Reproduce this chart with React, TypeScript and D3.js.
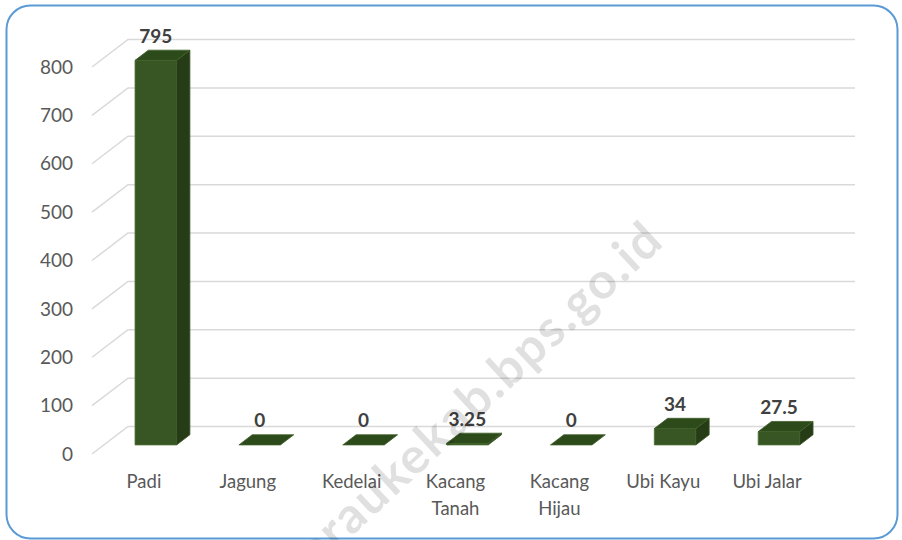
import * as d3 from 'd3';

const categories = ['Padi', 'Jagung', 'Kedelai', 'Kacang Tanah', 'Kacang Hijau', 'Ubi Kayu', 'Ubi Jalar'];
const values = [795, 0, 0, 3.25, 0, 34, 27.5];
const labels = ['795', '0', '0', '3.25', '0', '34', '27.5'];
const yTicks = [0, 100, 200, 300, 400, 500, 600, 700, 800];

// chart box and oblique depth vector
const FRONT_LEFT = 92;
const FRONT_RIGHT = 819;
const DEPTH = { dx: 36, dy: -27.5 };
const BAR_D0 = 0.33;
const BAR_D1 = 0.7;

const FONT = 'Lato, "Open Sans", sans-serif';

export default function App() {
  const width = 902;
  const height = 540;

  const x = d3.scaleBand().domain(categories).range([FRONT_LEFT, FRONT_RIGHT]);
  const y = d3.scaleLinear().domain([0, 800]).range([454, 67]);

  const proj = (px: number, v: number, d: number): [number, number] => [px + d * DEPTH.dx, y(v) + d * DEPTH.dy];
  const poly = (pts: [number, number][]) => pts.map((p) => p.join(',')).join(' ');

  const barW = x.bandwidth() * 0.4;

  return (
    <svg width={width} height={height} style={{ position: 'absolute', left: 0, top: 0 }}>
      <rect x={0} y={0} width={width} height={height} fill="#fff" />
      <rect x={6.5} y={5.5} width={891} height={533} rx={24} fill="#fff" stroke="#5b9bd5" strokeWidth={2} />

      {/* gridlines: side wall diagonals + back wall */}
      {yTicks.map((t) => {
        const [fx, fy] = proj(FRONT_LEFT, t, 0);
        const [bx, by] = proj(FRONT_LEFT, t, 1);
        const [ex] = proj(FRONT_RIGHT, t, 1);
        return (
          <g key={t}>
            <polyline points={poly([[fx, fy], [bx, by], [ex, by]])} fill="none" stroke="#d9d9d9" strokeWidth={1.5} />
            <text x={73} y={fy} dy="0.35em" textAnchor="end" fontFamily={FONT} fontSize={19} fill="#595959">
              {t}
            </text>
          </g>
        );
      })}

      {/* bars */}
      {categories.map((c, i) => {
        const v = values[i];
        const cx = (x(c) ?? 0) + x.bandwidth() / 2;
        const x0 = cx - barW / 2;
        const x1 = cx + barW / 2;
        const front = [proj(x0, 0, BAR_D0), proj(x1, 0, BAR_D0), proj(x1, v, BAR_D0), proj(x0, v, BAR_D0)];
        const side = [proj(x1, 0, BAR_D0), proj(x1, 0, BAR_D1), proj(x1, v, BAR_D1), proj(x1, v, BAR_D0)];
        const top = [proj(x0, v, BAR_D0), proj(x1, v, BAR_D0), proj(x1, v, BAR_D1), proj(x0, v, BAR_D1)];
        const [lx] = proj(cx, v, BAR_D0);
        const [, ly] = proj(cx, v, BAR_D1);
        return (
          <g key={c}>
            {v > 0 && <polygon points={poly(front)} fill="#375623" stroke="#4d7034" strokeWidth={0.8} />}
            {v > 0 && <polygon points={poly(side)} fill="#253c16" stroke="#3d5a28" strokeWidth={0.8} />}
            <polygon points={poly(top)} fill="#2d4a1b" stroke="#3f5f2a" strokeWidth={0.8} />
            <text x={lx} y={ly - 14} dy="0.35em" textAnchor="middle" fontFamily={FONT} fontSize={19} fontWeight="bold" fill="#404040">
              {labels[i]}
            </text>
          </g>
        );
      })}

      {/* category labels */}
      {categories.map((c) => {
        const cx = (x(c) ?? 0) + x.bandwidth() / 2;
        const lines = c.startsWith('Kacang') ? c.split(' ') : [c];
        return (
          <text key={c} x={cx} y={482} textAnchor="middle" fontFamily={FONT} fontSize={18.5} fill="#595959">
            {lines.map((l, j) => (
              <tspan key={j} x={cx} dy={j === 0 ? '0.35em' : 27}>
                {l}
              </tspan>
            ))}
          </text>
        );
      })}

      {/* watermark */}
      <text
        transform="translate(463,409) rotate(-43)"
        textAnchor="middle"
        dy="0.35em"
        fontFamily={FONT}
        fontSize={50}
        fontWeight="bold"
        letterSpacing={2}
        fill="#000"
        fillOpacity={0.12}
      >
        meraukekab.bps.go.id
      </text>
    </svg>
  );
}
